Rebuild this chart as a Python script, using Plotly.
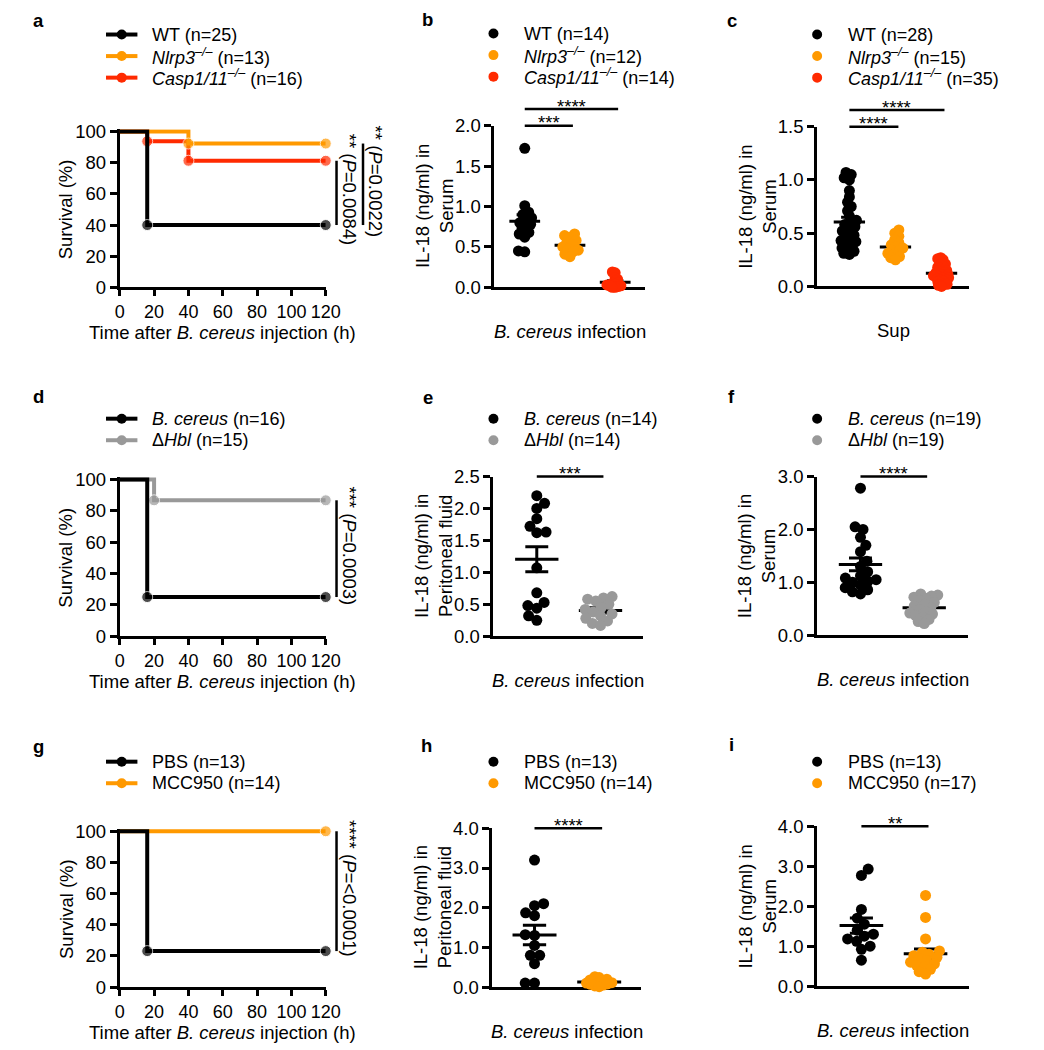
import math
import statistics
import plotly.graph_objects as go

W, H = 1044, 1050
FONT = "Arial, 'Liberation Sans', sans-serif"
FS = 18.5
LFS = 18      # legend text size
LSTEP = 22    # legend row spacing (px)
BLACK, ORANGE, RED, GREY = "#000000", "#ff9900", "#ff2a00", "#999999"

# ===================== data =====================
# --- survival curves (Kaplan-Meier steps): time (h), percent surviving ---
a_labels = ["WT (n=25)", "<i>Nlrp3<sup>–/–</sup></i> (n=13)", "<i>Casp1/11<sup>–/–</sup></i> (n=16)"]
a_wt_time, a_wt_surv = [0, 16, 120], [100, 40, 40]
a_nlrp3_time, a_nlrp3_surv = [0, 40, 120], [100, 92.3, 92.3]
a_casp_time, a_casp_surv = [0, 16, 40, 120], [100, 93.75, 81.25, 81.25]
a_stars = ["**", "**"]
a_pvals = ["0.0084", "0.0022"]

d_labels = ["<i>B. cereus</i> (n=16)", "Δ<i>Hbl</i> (n=15)"]
d_bc_time, d_bc_surv = [0, 16, 120], [100, 25, 25]
d_hbl_time, d_hbl_surv = [0, 20, 120], [100, 86.7, 86.7]
d_stars = ["***"]
d_pvals = ["0.0003"]

g_labels = ["PBS (n=13)", "MCC950 (n=14)"]
g_pbs_time, g_pbs_surv = [0, 16, 120], [100, 23.1, 23.1]
g_mcc_time, g_mcc_surv = [0, 120], [100, 100]
g_stars = ["****"]
g_pvals = ["<0.0001"]

surv_xticks = [0, 20, 40, 60, 80, 100, 120]
surv_yticks = [0, 20, 40, 60, 80, 100]

# --- IL-18 (ng/ml) individual values ---
b_labels = ["WT (n=14)", "<i>Nlrp3<sup>–/–</sup></i> (n=12)", "<i>Casp1/11<sup>–/–</sup></i> (n=14)"]
b_wt = [1.72, 1.01, 0.93, 0.90, 0.86, 0.83, 0.80, 0.78, 0.75, 0.68, 0.66, 0.62, 0.45, 0.44]
b_nlrp3 = [0.66, 0.64, 0.62, 0.58, 0.55, 0.53, 0.50, 0.48, 0.46, 0.44, 0.41, 0.38]
b_casp = [0.19, 0.18, 0.12, 0.10, 0.08, 0.06, 0.05, 0.04, 0.03, 0.02, 0.02, 0.01, 0.0, 0.0]
b_yticks = [0.0, 0.5, 1.0, 1.5, 2.0]

c_labels = ["WT (n=28)", "<i>Nlrp3<sup>–/–</sup></i> (n=15)", "<i>Casp1/11<sup>–/–</sup></i> (n=35)"]
c_wt = [1.07, 1.05, 1.02, 1.00, 0.90, 0.84, 0.79, 0.75, 0.71, 0.66, 0.62, 0.60, 0.58, 0.56,
        0.55, 0.52, 0.50, 0.48, 0.45, 0.43, 0.42, 0.40, 0.38, 0.36, 0.35, 0.33, 0.31, 0.30]
c_nlrp3 = [0.53, 0.50, 0.47, 0.44, 0.41, 0.39, 0.37, 0.36, 0.34, 0.33, 0.31, 0.30, 0.28, 0.27, 0.25]
c_casp = [0.27, 0.26, 0.25, 0.24, 0.22, 0.21, 0.20, 0.19, 0.18, 0.17, 0.16, 0.15, 0.15, 0.14,
          0.13, 0.13, 0.12, 0.11, 0.11, 0.10, 0.10, 0.09, 0.09, 0.08, 0.08, 0.07, 0.06, 0.06,
          0.05, 0.04, 0.03, 0.02, 0.02, 0.01, 0.00]
c_yticks = [0.0, 0.5, 1.0, 1.5]

e_labels = ["<i>B. cereus</i> (n=14)", "Δ<i>Hbl</i> (n=14)"]
e_bc = [2.20, 2.08, 2.00, 1.84, 1.72, 1.63, 1.62, 1.07, 0.68, 0.53, 0.48, 0.44, 0.32, 0.25]
e_hbl = [0.62, 0.60, 0.58, 0.55, 0.50, 0.45, 0.42, 0.38, 0.35, 0.32, 0.28, 0.24, 0.20, 0.17]
e_yticks = [0.0, 0.5, 1.0, 1.5, 2.0, 2.5]

f_labels = ["<i>B. cereus</i> (n=19)", "Δ<i>Hbl</i> (n=19)"]
f_bc = [2.78, 2.05, 2.00, 1.85, 1.70, 1.58, 1.40, 1.30, 1.20, 1.12, 1.08, 1.05, 1.02, 1.00,
        0.95, 0.90, 0.86, 0.82, 0.78]
f_hbl = [0.78, 0.76, 0.74, 0.72, 0.70, 0.66, 0.62, 0.58, 0.55, 0.52, 0.48, 0.45, 0.42, 0.40,
         0.37, 0.34, 0.30, 0.26, 0.22]
f_yticks = [0.0, 1.0, 2.0, 3.0]

h_labels = ["PBS (n=13)", "MCC950 (n=14)"]
h_pbs = [3.20, 2.10, 2.05, 1.87, 1.80, 1.32, 1.30, 1.05, 0.80, 0.80, 0.59, 0.10, 0.10]
h_mcc = [0.26, 0.24, 0.20, 0.18, 0.16, 0.14, 0.12, 0.11, 0.10, 0.08, 0.07, 0.05, 0.03, 0.01]
h_yticks = [0.0, 1.0, 2.0, 3.0, 4.0]

i_labels = ["PBS (n=13)", "MCC950 (n=17)"]
i_pbs = [2.93, 2.77, 1.92, 1.70, 1.55, 1.40, 1.30, 1.25, 1.18, 1.12, 1.00, 0.92, 0.65]
i_mcc = [2.27, 1.72, 1.18, 0.88, 0.85, 0.80, 0.76, 0.72, 0.68, 0.64, 0.60, 0.56, 0.52,
         0.48, 0.42, 0.36, 0.30]
i_yticks = [0.0, 1.0, 2.0, 3.0, 4.0]

SERUM = "IL-18 (ng/ml) in<br>Serum"
PERI = "IL-18 (ng/ml) in<br>Peritoneal fluid"
INFECT = "<i>B. cereus</i> infection"
SURV_X = "Time after <i>B. cereus</i> injection (h)"

# ===================== layout geometry (pixels) =====================
GEO = {
    "a": dict(x0=117, x1=327, yb=282, yt=123, xr=(0, 120), yv=(0, 100), letter=(34, 10), leg=(103, 24)),
    "b": dict(x0=499, x1=653, yb=282, yt=117, xr=(-0.67, 2.67), yv=(0, 2.0), letter=(431, 9), leg=(498, 23)),
    "c": dict(x0=828, x1=983, yb=281, yt=118, xr=(-0.70, 2.60), yv=(0, 1.5), letter=(741, 10), leg=(828, 24)),
    "d": dict(x0=117, x1=327, yb=638, yt=478, xr=(0, 120), yv=(0, 100), letter=(34, 393), leg=(103, 416)),
    "e": dict(x0=498, x1=650, yb=638, yt=475, xr=(-0.68, 1.66), yv=(0, 2.5), letter=(431, 394), leg=(498, 416)),
    "f": dict(x0=828, x1=982, yb=637, yt=475, xr=(-0.68, 1.69), yv=(0, 3.0), letter=(741, 393), leg=(828, 416)),
    "g": dict(x0=117, x1=327, yb=996, yt=837, xr=(0, 120), yv=(0, 100), letter=(34, 750), leg=(103, 766)),
    "h": dict(x0=497, x1=648, yb=996, yt=834, xr=(-0.65, 1.64), yv=(0, 4.0), letter=(430, 749), leg=(498, 766)),
    "i": dict(x0=828, x1=983, yb=995, yt=832, xr=(-0.69, 1.68), yv=(0, 4.0), letter=(741, 748), leg=(828, 766)),
}
ORDER = ["a", "b", "c", "d", "e", "f", "g", "h", "i"]
SURV_PAD = 1.5  # extra range above 100 % so the top line is not clipped


def scales(k):
    g = GEO[k]
    sx = (g["x1"] - g["x0"]) / (g["xr"][1] - g["xr"][0])
    sy = (g["yb"] - g["yt"]) / (g["yv"][1] - g["yv"][0])
    return sx, sy


def to_px(k, x, y):
    g = GEO[k]
    sx, sy = scales(k)
    return g["x0"] + (x - g["xr"][0]) * sx, g["yb"] - (y - g["yv"][0]) * sy


def px(xp):
    return xp / W


def py(yp):
    return 1 - yp / H


fig = go.Figure()
shapes, annos = [], []
axis_ids = {}

for n, k in enumerate(ORDER, start=1):
    g = GEO[k]
    sx, sy = scales(k)
    is_surv = k in ("a", "d", "g")
    yr = (g["yv"][0], g["yv"][1] + (SURV_PAD if is_surv else 0))
    ytop_px = g["yb"] - (yr[1] - g["yv"][0]) * sy
    sfx = "" if n == 1 else str(n)
    axis_ids[k] = ("x" + sfx, "y" + sfx)
    xa = dict(domain=[px(g["x0"]), px(g["x1"])], range=list(g["xr"]), anchor="y" + sfx,
              showline=True, linecolor=BLACK, linewidth=3, showgrid=False, zeroline=False,
              fixedrange=True, layer="below traces",
              tickfont=dict(family=FONT, size=18, color=BLACK))
    ya = dict(domain=[py(g["yb"]), py(ytop_px)], range=list(yr), anchor="x" + sfx,
              showline=True, linecolor=BLACK, linewidth=3, showgrid=False, zeroline=False,
              fixedrange=True, layer="below traces", ticks="outside", ticklen=7, tickwidth=3,
              tickcolor=BLACK, tickfont=dict(family=FONT, size=FS, color=BLACK))
    if is_surv:
        xa.update(ticks="outside", ticklen=6, tickwidth=3, tickcolor=BLACK, tickvals=surv_xticks)
        ya.update(tickvals=surv_yticks)
    else:
        xa.update(showticklabels=False, ticks="")
    fig.layout["xaxis" + sfx] = xa
    fig.layout["yaxis" + sfx] = ya
    annos.append(dict(x=px(g["letter"][0]), y=py(g["letter"][1]), xref="paper", yref="paper",
                      text="<b>%s</b>" % k, showarrow=False, xanchor="center", yanchor="middle",
                      font=dict(family=FONT, size=FS, color=BLACK)))


def add_text(xp, yp, text, size=FS, angle=0, xanchor="center", yanchor="middle", pad=1):
    annos.append(dict(x=px(xp), y=py(yp), xref="paper", yref="paper", text=text, showarrow=False,
                      textangle=angle, xanchor=xanchor, yanchor=yanchor, borderpad=pad,
                      font=dict(family=FONT, size=size, color=BLACK)))


def legend(k, labels, colors, with_line):
    lx, ly = GEO[k]["leg"]
    for j, (lab, col) in enumerate(zip(labels, colors)):
        yy = ly + LSTEP * j
        if with_line:
            shapes.append(dict(type="line", xref="paper", yref="paper", x0=px(lx), x1=px(lx + 32),
                               y0=py(yy), y1=py(yy), line=dict(color=col, width=4)))
            cx, tx = lx + 16, lx + 46
        else:
            cx, tx = lx, lx + 30
        shapes.append(dict(type="circle", xref="paper", yref="paper", xsizemode="pixel",
                           ysizemode="pixel", xanchor=px(cx), yanchor=py(yy), x0=-5, x1=5, y0=-5, y1=5,
                           fillcolor=col, line=dict(width=0)))
        add_text(tx, yy, lab, size=LFS, xanchor="left", pad=0)


# ---------------- survival panels ----------------
def survival(k, curves, labels, stars, pvals, pairs):
    xid, yid = axis_ids[k]
    for (t, s, col) in curves:
        fig.add_trace(go.Scatter(x=t, y=s, xaxis=xid, yaxis=yid, mode="lines+markers",
                                 line=dict(color=col, width=4, shape="hv"),
                                 marker=dict(color=col, size=[0] + [11] * (len(t) - 1)),
                                 cliponaxis=False, showlegend=False, hoverinfo="skip"))
    g = GEO[k]
    for j, ((ia, ib), st, pv) in enumerate(zip(pairs, stars, pvals)):
        ya_end = curves[ia][1][-1]
        yb_end = curves[ib][1][-1]
        xl = g["x1"] + 11 + 27 * j
        _, p1 = to_px(k, 0, ya_end)
        _, p2 = to_px(k, 0, yb_end)
        shapes.append(dict(type="line", xref="paper", yref="paper", x0=px(xl), x1=px(xl),
                           y0=py(p1), y1=py(p2), line=dict(color=BLACK, width=2.5)))
        add_text(xl + 13, (p1 + p2) / 2 - 3, "%s (<i>P</i>=%s)" % (st, pv), angle=90, pad=0)
    add_text(g["x0"] - 55, (g["yb"] + g["yt"]) / 2, "Survival (%)", angle=-90)
    add_text((g["x0"] + g["x1"]) / 2, g["yb"] + 46, SURV_X, pad=0)
    legend(k, labels, [c[2] for c in curves][::-1], True)


survival("a", [(a_casp_time, a_casp_surv, RED), (a_nlrp3_time, a_nlrp3_surv, ORANGE),
               (a_wt_time, a_wt_surv, BLACK)], a_labels, a_stars, a_pvals, [(0, 2), (1, 2)])
survival("d", [(d_hbl_time, d_hbl_surv, GREY), (d_bc_time, d_bc_surv, BLACK)],
         d_labels, d_stars, d_pvals, [(0, 1)])
survival("g", [(g_mcc_time, g_mcc_surv, ORANGE), (g_pbs_time, g_pbs_surv, BLACK)],
         g_labels, g_stars, g_pvals, [(0, 1)])


# ---------------- scatter (dot) panels ----------------
def swarm(vals, sy, lim, d0=9.5):
    ypx = [v * sy for v in vals]
    order = sorted(range(len(vals)), key=lambda i: ypx[i])
    d = d0
    while True:
        xs = [0.0] * len(vals)
        placed = []
        for cnt, i in enumerate(order):
            y = ypx[i]
            cands = [0.0]
            for (qx, qy) in placed:
                dy = abs(y - qy)
                if dy < d:
                    dx = math.sqrt(d * d - dy * dy)
                    cands.extend([qx + dx, qx - dx])
            sgn = 1 if cnt % 2 else -1
            best = None
            for c in sorted(cands, key=lambda c: (round(abs(c), 6), sgn * c)):
                if all((c - qx) ** 2 + (y - qy) ** 2 >= d * d - 1e-6 for qx, qy in placed):
                    best = c
                    break
            if best is None:
                best = max(q[0] for q in placed) + d
            xs[i] = best
            placed.append((best, y))
        if max(abs(v) for v in xs) <= lim or d <= 2.5:
            return xs
        d -= 0.25


def dots(k, groups, colors, labels, yticks, ytitle, xtitle, comps):
    xid, yid = axis_ids[k]
    g = GEO[k]
    sx, sy = scales(k)
    lim = 9 if len(groups) == 3 else 16
    fig.layout["yaxis" + xid[1:]].update(tickvals=yticks, tickformat=".1f")
    for ci, (vals, col) in enumerate(zip(groups, colors)):
        m = statistics.mean(vals)
        sem = statistics.stdev(vals) / math.sqrt(len(vals))
        hw, cw = 0.34, 0.18
        fig.add_trace(go.Scatter(
            x=[ci - hw, ci + hw, None, ci, ci, None, ci - cw, ci + cw, None, ci - cw, ci + cw],
            y=[m, m, None, m - sem, m + sem, None, m - sem, m - sem, None, m + sem, m + sem],
            xaxis=xid, yaxis=yid, mode="lines", line=dict(color=BLACK, width=3),
            cliponaxis=False, showlegend=False, hoverinfo="skip"))
        offs = swarm(vals, sy, lim)
        fig.add_trace(go.Scatter(
            x=[ci + o / sx for o in offs], y=vals, xaxis=xid, yaxis=yid, mode="markers",
            marker=dict(color=col, size=11, line=dict(width=0)), cliponaxis=False,
            showlegend=False, hoverinfo="skip"))
    for lvl, (ca, cb, st) in enumerate(comps):
        xa_, ytop = to_px(k, ca, yticks[-1])
        xb_, _ = to_px(k, cb, yticks[-1])
        yy = ytop - 17 * lvl
        shapes.append(dict(type="line", xref="paper", yref="paper", x0=px(xa_), x1=px(xb_ + 3),
                           y0=py(yy), y1=py(yy), line=dict(color=BLACK, width=2.5)))
        add_text((xa_ + xb_ + 3) / 2, yy - 3, st, pad=0)
    add_text(g["x0"] - 61, (g["yb"] + g["yt"]) / 2, ytitle, angle=-90, pad=0)
    add_text((g["x0"] + g["x1"]) / 2, g["yb"] + 45, xtitle)
    legend(k, labels, colors, False)


dots("b", [b_wt, b_nlrp3, b_casp], [BLACK, ORANGE, RED], b_labels, b_yticks, SERUM, INFECT,
     [(0, 1, "***"), (0, 2, "****")])
dots("c", [c_wt, c_nlrp3, c_casp], [BLACK, ORANGE, RED], c_labels, c_yticks, SERUM, "Sup",
     [(0, 1, "****"), (0, 2, "****")])
dots("e", [e_bc, e_hbl], [BLACK, GREY], e_labels, e_yticks, PERI, INFECT, [(0, 1, "***")])
dots("f", [f_bc, f_hbl], [BLACK, GREY], f_labels, f_yticks, SERUM, INFECT, [(0, 1, "****")])
dots("h", [h_pbs, h_mcc], [BLACK, ORANGE], h_labels, h_yticks, PERI, INFECT, [(0, 1, "****")])
dots("i", [i_pbs, i_mcc], [BLACK, ORANGE], i_labels, i_yticks, SERUM, INFECT, [(0, 1, "**")])

fig.update_layout(width=W, height=H, margin=dict(l=0, r=0, t=0, b=0),
                  paper_bgcolor="white", plot_bgcolor="white", showlegend=False,
                  font=dict(family=FONT, size=FS, color=BLACK),
                  shapes=shapes, annotations=annos)
fig.write_html("out.html", config={"displayModeBar": False},
               post_script="document.body.style.margin='0';document.body.style.overflow='hidden';")
